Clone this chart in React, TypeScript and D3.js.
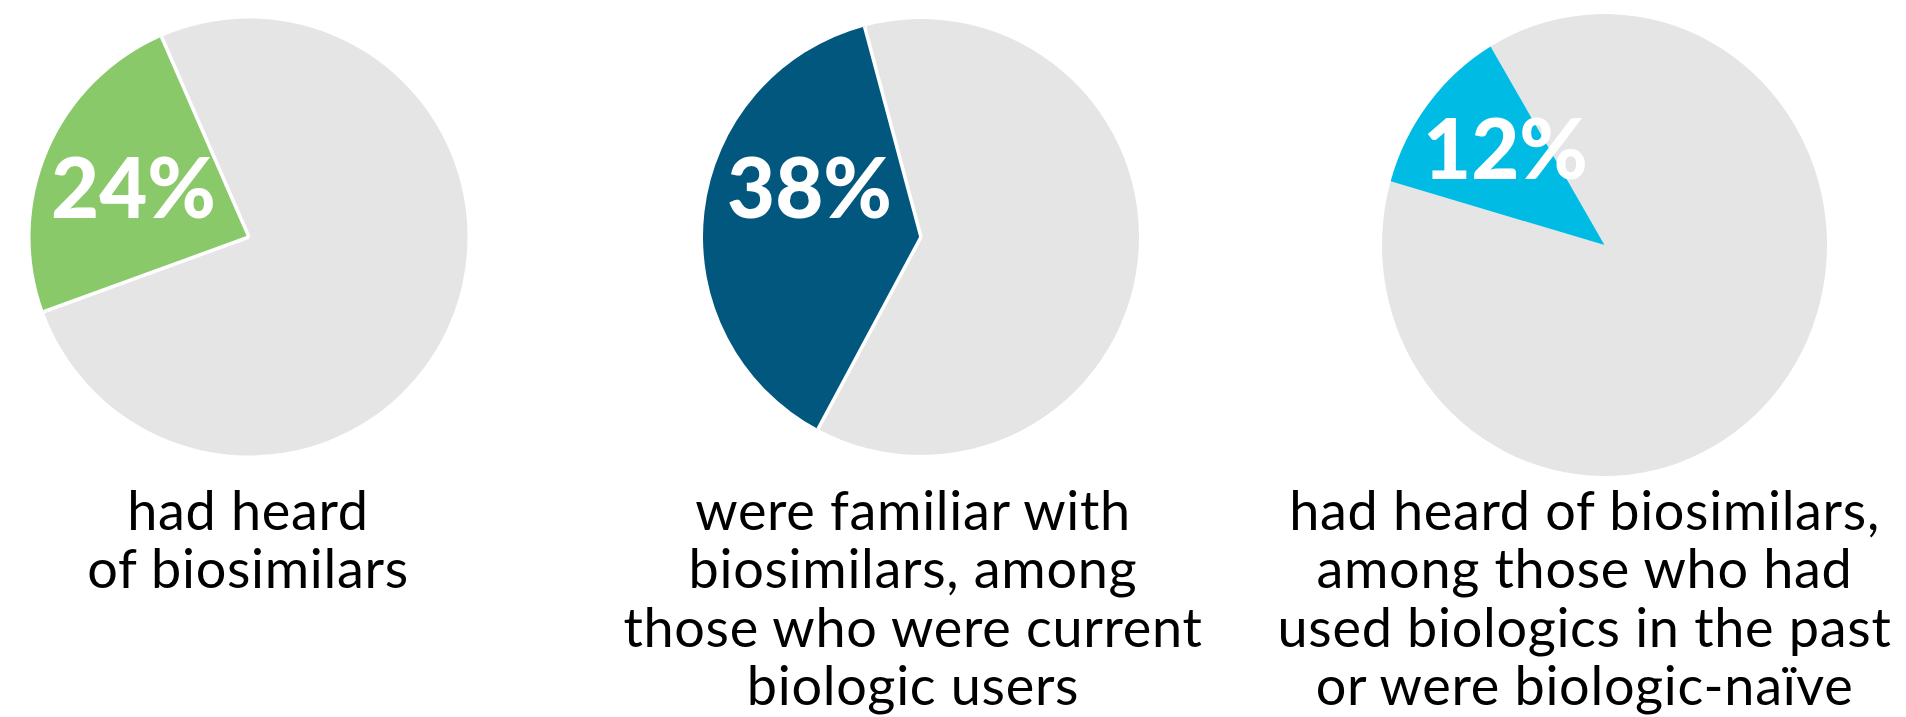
import React from "react";
import * as d3 from "d3";

const percentLabels = ["24%", "38%", "12%"];
const values = [24, 38, 12];
const sliceColors = ["#8AC96A", "#02577F", "#00BCE4"];
const restColor = "#E5E5E5";
const captions = [
  ["had heard", "of biosimilars"],
  ["were familiar with", "biosimilars, among", "those who were current", "biologic users"],
  ["had heard of biosimilars,", "among those who had", "used biologics in the past", "or were biologic-naïve"],
];

// layout (not data)
const layout = [
  { cx: 249, cy: 237, rx: 218.5, ry: 218.5, start: -23.6, sep: true, lx: -115.5, ly: -19, capX: -1 },
  { cx: 921, cy: 237, rx: 218, ry: 218, start: -15, sep: true, lx: -111.5, ly: -19, capX: -8 },
  { cx: 1604.5, cy: 245, rx: 222.5, ry: 231, start: -30.8, sep: false, lx: -99, ly: -66, capX: -20 },
];

const FONT = "Lato, 'Open Sans', sans-serif";

export default function App() {
  const W = 1906, H = 717;
  const capBase = 530;
  const lineH = 58.3;
  return (
    <svg width={W} height={H} style={{ position: "absolute", left: 0, top: 0, background: "#fff" }}>
      {values.map((v, i) => {
        const L = layout[i];
        const data = [
          { key: "rest", value: 100 - v, color: restColor },
          { key: "part", value: v, color: sliceColors[i] },
        ];
        const pie = d3
          .pie<any>()
          .sort(null)
          .value((d: any) => d.value)
          .startAngle((L.start * Math.PI) / 180)
          .endAngle((L.start * Math.PI) / 180 + 2 * Math.PI);
        const arcs = pie(data);
        const arc = d3.arc<any>().innerRadius(0).outerRadius(L.rx);
        return (
          <g key={i}>
            <g transform={`translate(${L.cx},${L.cy}) scale(1,${L.ry / L.rx})`}>
              {arcs.map((a, j) => (
                <path key={j} d={arc(a) as string} fill={a.data.color} />
              ))}
              {L.sep &&
                arcs.map((a, j) => {
                  const ang = a.startAngle;
                  const x = Math.sin(ang) * L.rx;
                  const y = -Math.cos(ang) * L.rx;
                  return <line key={"s" + j} x1={0} y1={0} x2={x} y2={y} stroke="#fff" strokeWidth={3.5} />;
                })}
            </g>
            <text
              x={L.cx + L.lx}
              y={L.cy + L.ly}
              textAnchor="middle"
              fill="#fff"
              fontFamily={FONT}
              fontWeight={900}
              fontSize={83}
            >
              {percentLabels[i]}
            </text>
            {captions[i].map((line, k) => (
              <text
                key={k}
                x={L.cx + L.capX}
                y={capBase + k * lineH}
                textAnchor="middle"
                fill="#000"
                fontFamily={FONT}
                fontSize={54}
                letterSpacing={0.7}
              >
                {line}
              </text>
            ))}
          </g>
        );
      })}
    </svg>
  );
}
